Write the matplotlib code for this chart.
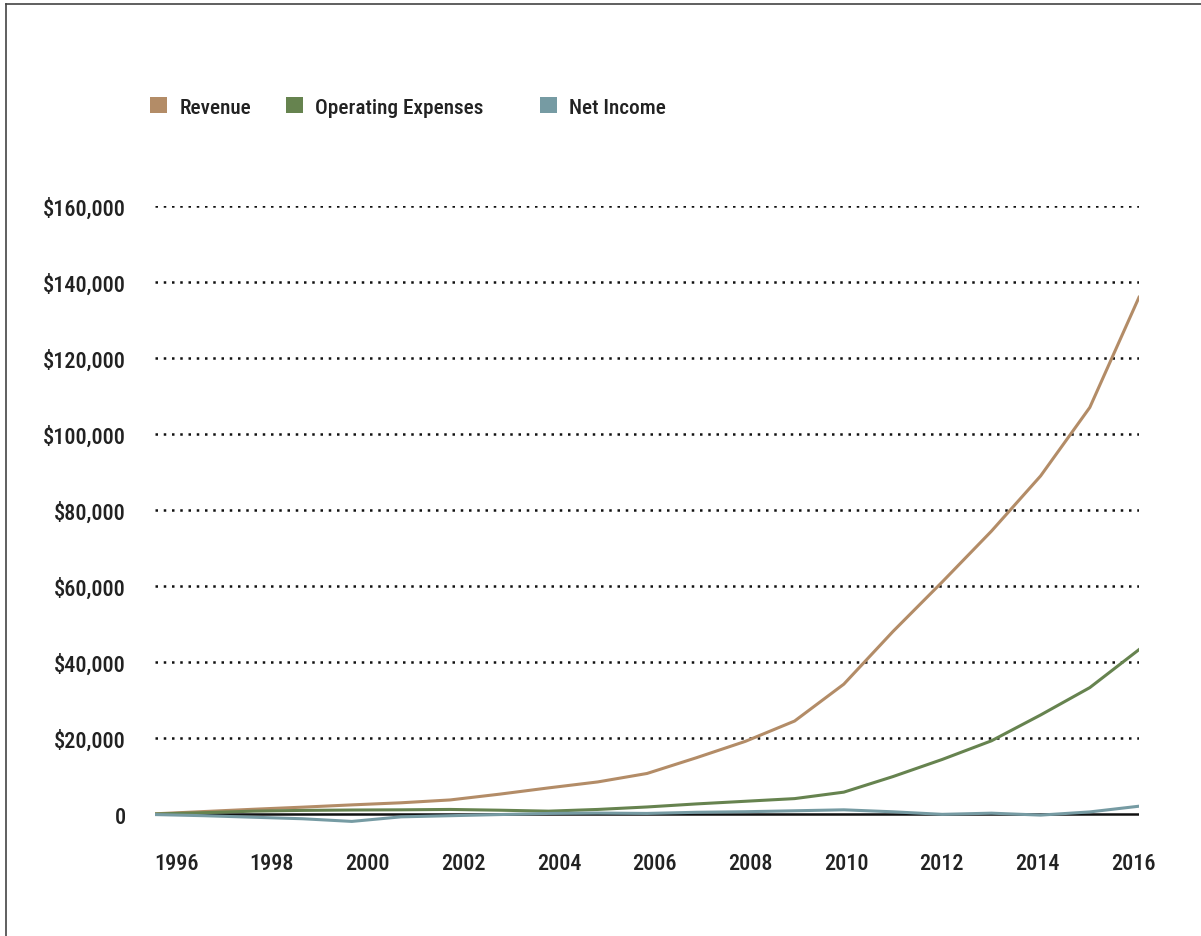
import numpy as np
import matplotlib
matplotlib.use("Agg")
import matplotlib.pyplot as plt
from matplotlib.patches import Patch
from matplotlib.lines import Line2D
from matplotlib import font_manager

years = list(range(1996, 2017))
revenue = [100, 700, 1300, 1850, 2450, 3000, 3750, 5264, 6921, 8490, 10711,
           14835, 19166, 24509, 34204, 48077, 61093, 74452, 88988, 107006, 135987]
opex = [50, 400, 800, 1000, 1100, 1150, 1250, 1050, 800, 1250, 1900,
        2700, 3400, 4100, 5800, 9900, 14400, 19300, 26100, 33300, 43300]
net_income = [-100, -400, -800, -1200, -1900, -700, -400, -100, 200, 300, 200,
              500, 650, 900, 1150, 630, -40, 270, -240, 600, 2100]
series_names = ["Revenue", "Operating Expenses", "Net Income"]
series_colors = ["#B38C67", "#66834F", "#769BA3"]
tick_years = list(range(1996, 2017, 2))
y_ticks = list(range(0, 160001, 20000))

names = {f.name for f in font_manager.fontManager.ttflist}
font = "DejaVu Sans"
for cand in ["Roboto Condensed", "Liberation Sans Narrow", "DejaVu Sans Condensed"]:
    if cand in names:
        font = cand
        break
plt.rcParams["font.family"] = font

fig = plt.figure(figsize=(12.01, 9.37), dpi=100)
ax = fig.add_axes([155 / 1201, (937 - 838) / 937, 984 / 1201, 631 / 937])

for vals, c in zip([revenue, opex, net_income], series_colors):
    ax.plot(years, vals, color=c, lw=2.2, solid_joinstyle="miter", zorder=3)
ax.axhline(0, color="#111111", lw=1.8, zorder=2.5)

for v in y_ticks[1:]:
    ax.axhline(v, color="#111111", lw=1.8, linestyle=(0, (1, 2.3)), zorder=1)

ax.set_xlim(1996, 2016)
ax.set_ylim(-6000, 160000)
for s in ax.spines.values():
    s.set_visible(False)

# labels sit a bit off the data years in the original
tick_pos = [1996.43 + (y - 1996) * 0.9725 for y in tick_years]
ax.set_xticks(tick_pos)
ax.set_xticklabels([str(y) for y in tick_years], fontsize=16, fontweight="medium", color="#222222")
ax.set_yticks(y_ticks)
ax.set_yticklabels(["0" if v == 0 else "${:,}".format(v) for v in y_ticks],
                   fontsize=16, fontweight="medium", color="#222222")
ax.tick_params(axis="both", length=0)
ax.tick_params(axis="y", pad=21)
ax.tick_params(axis="x", pad=11)

# one legend per entry so the uneven spacing of the original can be kept
legend_x = [131, 267, 521]
for name, c, lx in zip(series_names, series_colors, legend_x):
    leg = fig.legend([Patch(facecolor=c, edgecolor="none")], [name], loc="center left",
                     bbox_to_anchor=(lx / 1201, 1 - 108 / 937), frameon=False,
                     handlelength=0.78, handleheight=0.78, handletextpad=0.6,
                     prop={"size": 15.3, "weight": "medium", "family": font},
                     labelcolor="#222222")

fig.add_artist(Line2D([6 / 1201, 6 / 1201], [0, 1 - 5 / 937], color="#444444", lw=1.2))
fig.add_artist(Line2D([6 / 1201, 1], [1 - 5 / 937, 1 - 5 / 937], color="#444444", lw=1.2))

fig.savefig("out.png", dpi=100, facecolor="white")
